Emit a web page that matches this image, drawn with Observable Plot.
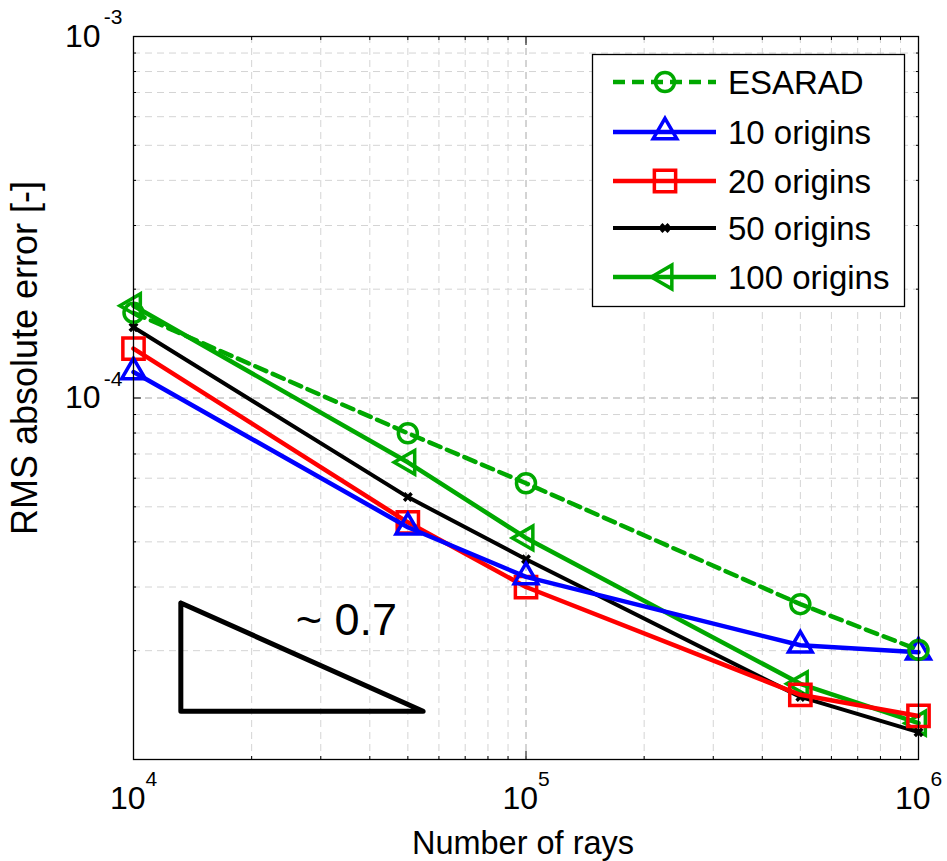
<!DOCTYPE html>
<html>
<head>
<meta charset="utf-8">
<script src="https://cdn.jsdelivr.net/npm/d3@7"></script>
<script src="https://cdn.jsdelivr.net/npm/@observablehq/plot@0.6"></script>
<style>
  html, body { margin: 0; padding: 0; background: #fff; }
  #wrap { position: relative; width: 947px; height: 861px; font-family: "Liberation Sans", Arial, sans-serif; }
  #wrap svg { display: block; }
  #legend { position: absolute; left: 0; top: 0; pointer-events: none; }
</style>
</head>
<body>
<div id="wrap"></div>
<script>
// ---- data ----
const rays = [1e4, 5e4, 1e5, 5e5, 1e6];
const seriesNames = ["ESARAD", "10 origins", "20 origins", "50 origins", "100 origins"];
const esarad     = [1.72e-4, 7.99e-5, 5.81e-5, 2.69e-5, 2.01e-5];
const origins10  = [1.18e-4, 4.39e-5, 3.20e-5, 2.07e-5, 1.98e-5];
const origins20  = [1.37e-4, 4.53e-5, 3.00e-5, 1.51e-5, 1.32e-5];
const origins50  = [1.57e-4, 5.32e-5, 3.58e-5, 1.49e-5, 1.19e-5];
const origins100 = [1.80e-4, 6.64e-5, 4.10e-5, 1.62e-5, 1.26e-5];

const xMajor = [1e4, 1e5, 1e6];
const xMinor = [2e4,3e4,4e4,5e4,6e4,7e4,8e4,9e4,2e5,3e5,4e5,5e5,6e5,7e5,8e5,9e5];
const yMajor = [1e-5, 1e-4, 1e-3];
const yMinor = [2e-5,3e-5,4e-5,5e-5,6e-5,7e-5,8e-5,9e-5,2e-4,3e-4,4e-4,5e-4,6e-4,7e-4,8e-4,9e-4];
const xTickLabels = [1e4, 1e5, 1e6];
const yTickLabels = [1e-4, 1e-3];

// slope triangle annotation
const triX = [1.32e4, 1.32e4, 5.47e4, 1.32e4];
const triY = [2.71e-5, 1.36e-5, 1.36e-5, 2.71e-5];
const slopeText = "~ 0.7";
const slopeTextX = 2.59e4;
const slopeTextY = 2.21e-5;

const green = "#00a800";
const colors = [green, "#0000ff", "#ff0000", "#000000", green];
const symbols = ["circle", "triangle", "square", "times", "triangle"];

const seriesValues = [esarad, origins10, origins20, origins50, origins100];
const rows = [];
seriesValues.forEach((vals, s) => vals.forEach((v, i) => rows.push({series: seriesNames[s], s, x: rays[i], y: v})));
const bySeries = s => rows.filter(d => d.s === s);

const font = '"Liberation Sans", Arial, sans-serif';

// draw order bottom->top: 100, 50, 20, 10, ESARAD
const order = [4, 3, 2, 1, 0];
const seriesMarks = [];
for (const s of order) {
  const data = bySeries(s);
  seriesMarks.push(Plot.line(data, {x: "x", y: "y", stroke: colors[s], strokeWidth: s === 3 ? 4 : 4.5,
    strokeDasharray: s === 0 ? "12,7" : null}));
  const dotOpts = {x: "x", y: "y", stroke: colors[s], fill: "none", strokeWidth: 3.5, symbol: symbols[s]};
  if (s === 0) dotOpts.r = 9.5;
  if (s === 1) dotOpts.r = 8.8;
  if (s === 2) dotOpts.r = 12;
  if (s === 3) { dotOpts.r = 3.5; dotOpts.strokeWidth = 3.5; }
  if (s === 4) { dotOpts.r = 8.8; dotOpts.rotate = -90; }
  seriesMarks.push(Plot.dot(data, dotOpts));
}

const chart = Plot.plot({
  width: 947,
  height: 861,
  marginLeft: 133,
  marginRight: 29,
  marginTop: 36,
  marginBottom: 102,
  style: {fontFamily: font, background: "#fff", color: "#000", overflow: "visible"},
  x: {type: "log", domain: [1e4, 1e6]},
  y: {type: "log", domain: [1e-5, 1e-3]},
  marks: [
    Plot.gridX(xMinor, {stroke: "#d4d4d4", strokeOpacity: 1, strokeWidth: 1, strokeDasharray: "7,5"}),
    Plot.gridY(yMinor, {stroke: "#d4d4d4", strokeOpacity: 1, strokeWidth: 1, strokeDasharray: "7,5"}),
    Plot.gridX(xMajor, {stroke: "#a8a8a8", strokeOpacity: 1, strokeWidth: 1, strokeDasharray: "7,5"}),
    Plot.gridY(yMajor, {stroke: "#a8a8a8", strokeOpacity: 1, strokeWidth: 1, strokeDasharray: "7,5"}),
    Plot.axisX(xMinor, {anchor: "bottom", tickSize: -3, tickFormat: () => "", label: null, stroke: "#000"}),
    Plot.axisX(xMinor, {anchor: "top", tickSize: -3, tickFormat: () => "", label: null, stroke: "#000"}),
    Plot.axisX(xMajor, {anchor: "bottom", tickSize: -8, tickFormat: () => "", label: null, stroke: "#000"}),
    Plot.axisX(xMajor, {anchor: "top", tickSize: -8, tickFormat: () => "", label: null, stroke: "#000"}),
    Plot.axisY(yMinor, {anchor: "left", tickSize: -3, tickFormat: () => "", label: null, stroke: "#000"}),
    Plot.axisY(yMinor, {anchor: "right", tickSize: -3, tickFormat: () => "", label: null, stroke: "#000"}),
    Plot.axisY(yMajor, {anchor: "left", tickSize: -8, tickFormat: () => "", label: null, stroke: "#000"}),
    Plot.axisY(yMajor, {anchor: "right", tickSize: -8, tickFormat: () => "", label: null, stroke: "#000"}),
    // slope triangle
    Plot.line(triX.map((x, i) => ({x, y: triY[i]})), {x: "x", y: "y", stroke: "#000", strokeWidth: 5, strokeLinejoin: "round", strokeLinecap: "round"}),
    Plot.text([slopeText], {x: () => slopeTextX, y: () => slopeTextY, text: d => d, textAnchor: "start", lineAnchor: "bottom", fontSize: 45, fill: "#000"}),
    ...seriesMarks,
    Plot.frame({stroke: "#000", strokeWidth: 1.3}),
    // x tick labels 10^n
    Plot.text(xTickLabels, {x: d => d, frameAnchor: "bottom", text: () => "10", textAnchor: "end", lineAnchor: "middle", dx: 12, dy: 39, fontSize: 32, fill: "#000"}),
    Plot.text(xTickLabels, {x: d => d, frameAnchor: "bottom", text: d => String(Math.round(Math.log10(d))), textAnchor: "start", lineAnchor: "middle", dx: 12, dy: 20, fontSize: 21, fill: "#000"}),
    // y tick labels
    Plot.text(yTickLabels, {y: d => d, frameAnchor: "left", text: () => "10", textAnchor: "end", lineAnchor: "middle", dx: -33, dy: 0, fontSize: 32, fill: "#000"}),
    Plot.text(yTickLabels, {y: d => d, frameAnchor: "left", text: d => String(Math.round(Math.log10(d))), textAnchor: "end", lineAnchor: "middle", dx: -11, dy: -19, fontSize: 21, fill: "#000"}),
    // axis titles
    Plot.text(["Number of rays"], {frameAnchor: "bottom", text: d => d, textAnchor: "middle", lineAnchor: "bottom", dx: -3, dy: 94, fontSize: 32.5, fill: "#000"}),
    Plot.text(["RMS absolute error [-]"], {frameAnchor: "left", text: d => d, textAnchor: "middle", lineAnchor: "bottom", rotate: -90, dx: -97, dy: -40, fontSize: 36, fill: "#000"})
  ]
});

const wrap = document.getElementById("wrap");
wrap.appendChild(chart);

// ---- legend overlay ----
const leg = d3.select(wrap).append("svg").attr("id", "legend").attr("width", 947).attr("height", 861);
leg.append("rect").attr("x", 592.5).attr("y", 54.5).attr("width", 312).attr("height", 252)
  .attr("fill", "#fff").attr("stroke", "#000").attr("stroke-width", 1.3);
const rowY = [82, 132, 181, 228, 277];
const symSizes = [Math.PI*9.5*9.5, Math.PI*8.8*8.8, Math.PI*12*12, Math.PI*3.5*3.5, Math.PI*8.8*8.8];
const d3types = [d3.symbolCircle, d3.symbolTriangle, d3.symbolSquare, d3.symbolTimes, d3.symbolTriangle];
seriesNames.forEach((name, s) => {
  const y = rowY[s];
  leg.append("line").attr("x1", 613).attr("x2", 716).attr("y1", y).attr("y2", y)
    .attr("stroke", colors[s]).attr("stroke-width", s === 3 ? 4 : 4.5)
    .attr("stroke-dasharray", s === 0 ? "12,7" : null);
  leg.append("path").attr("d", d3.symbol(d3types[s], symSizes[s])())
    .attr("transform", `translate(665,${y})` + (s === 4 ? " rotate(-90)" : ""))
    .attr("fill", "none").attr("stroke", colors[s]).attr("stroke-width", 3.5);
  leg.append("text").attr("x", 728).attr("y", y).attr("dy", "0.36em")
    .attr("font-family", font).attr("font-size", 33).attr("fill", "#000").text(name);
});
</script>
</body>
</html>
